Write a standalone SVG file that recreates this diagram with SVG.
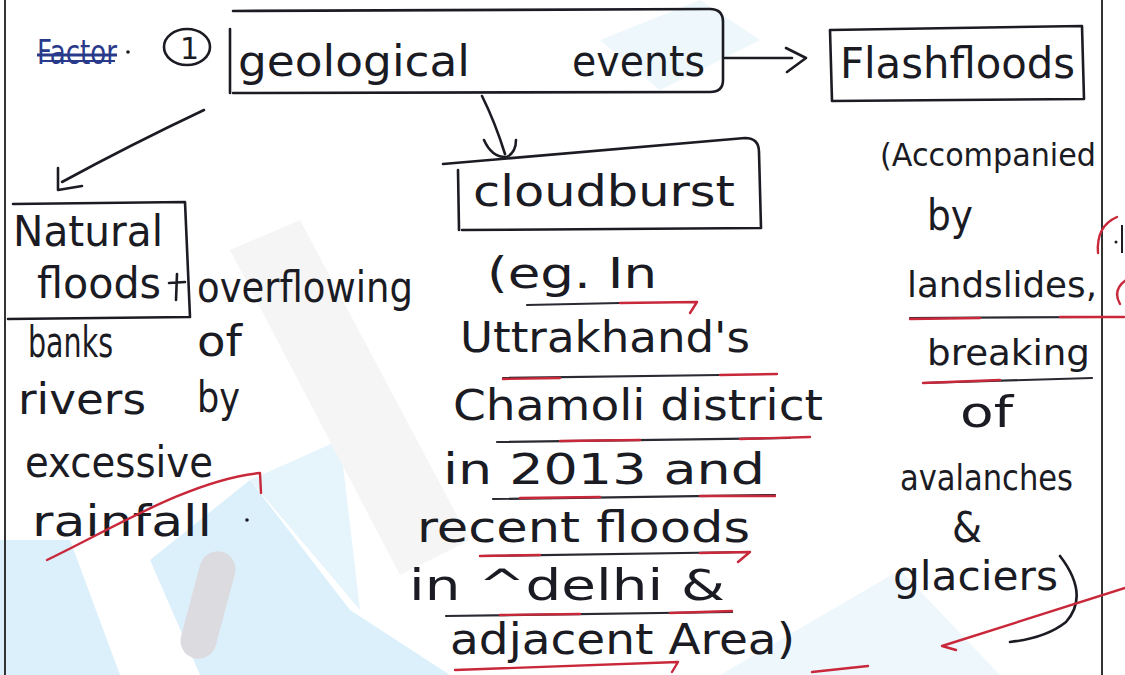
<svg xmlns="http://www.w3.org/2000/svg" width="1125" height="675" viewBox="0 0 1125 675">
  <style>
    .ink { font-family: "DejaVu Sans", "Liberation Sans", sans-serif; font-size: 42px; fill: #1b1b24; }
    .sm { font-size: 36px; }
    .blue { fill: #2a3a8a; }
    .box { fill: none; stroke: #1b1b24; stroke-width: 2.6; stroke-linecap: round; stroke-linejoin: round; }
    .line { fill: none; stroke: #1b1b24; stroke-width: 2.6; stroke-linecap: round; stroke-linejoin: round; }
    .red { fill: none; stroke: #c8283a; stroke-width: 2.4; stroke-linecap: round; stroke-linejoin: round; }
    .dark { fill: none; stroke: #2a2a33; stroke-width: 2.2; stroke-linecap: round; }
    .rule { stroke: #333; stroke-width: 2; }
  </style>

  <!-- paper -->
  <rect width="1125" height="675" fill="#ffffff"/>

  <!-- faint background print -->
  <g id="background-print">
    <polygon points="0,540 70,540 120,675 0,675" fill="#dcf0fb"/>
    <polygon points="150,560 250,480 350,610 450,675 200,675" fill="#dcf0fb"/>
    <polygon points="250,480 340,440 360,610" fill="#e6f4fc"/>
    <rect x="190" y="550" width="36" height="110" rx="18" fill="#dcdce0" transform="rotate(15 208 605)"/>
    <polygon points="720,675 900,570 1000,675" fill="#eef7fc"/>
    <polygon points="230,250 300,220 470,540 400,575" fill="#f5f5f6"/>
    <polygon points="600,40 700,0 760,40 660,90" fill="#eef7fc"/>
  </g>

  <!-- page margins -->
  <line class="rule" x1="5" y1="0" x2="5" y2="675"/>
  <line class="rule" x1="1102" y1="0" x2="1102" y2="675"/>

  <!-- heading -->
  <g id="heading">
    <text class="ink blue" x="37" y="64" style="font-size:34px" textLength="80" lengthAdjust="spacingAndGlyphs">Factor</text>
    <line x1="37" y1="55" x2="117" y2="55" stroke="#2a3a8a" stroke-width="3"/>
    <line x1="40" y1="61" x2="115" y2="61" stroke="#2a3a8a" stroke-width="2"/>
    <circle cx="128" cy="52" r="1.8" fill="#1b1b24"/>
    <ellipse class="line" cx="187" cy="47" rx="23" ry="18"/>
    <text class="ink" x="180" y="59" style="font-size:30px">1</text>
  </g>

  <!-- nodes -->
  <g id="geological-events">
    <path class="box" d="M233,11 L710,9 Q723,9 723,22 L723,80 Q723,92 710,92 L233,93 M230,29 L230,93"/>
    <text class="ink" x="238" y="76" textLength="232" lengthAdjust="spacingAndGlyphs">geological</text>
    <text class="ink" x="572" y="76" textLength="133" lengthAdjust="spacingAndGlyphs">events</text>
  </g>

  <g id="flash-floods">
    <path class="box" d="M830,30 L1082,26 L1084,99 L832,101 Z"/>
    <text class="ink" x="840" y="78" textLength="235" lengthAdjust="spacingAndGlyphs">Flashfloods</text>
  </g>

  <g id="cloudburst">
    <path class="box" d="M443,164 L745,138 Q759,138 759,152 L761,228 L462,230 M458,170 L459,230"/>
    <text class="ink" x="473" y="206" textLength="262" lengthAdjust="spacingAndGlyphs">cloudburst</text>
  </g>

  <g id="natural-floods">
    <path class="box" d="M13,204 L185,202 L190,317 L8,319"/>
    <text class="ink" x="13" y="246" textLength="150" lengthAdjust="spacingAndGlyphs">Natural</text>
    <text class="ink" x="37" y="298" textLength="124" lengthAdjust="spacingAndGlyphs">floods</text>
  </g>

  <!-- connectors -->
  <g id="connectors">
    <path class="line" d="M725,58 L792,58 M786,48 L806,58 L787,72"/>
    <path class="line" d="M482,96 Q495,122 505,154 M484,140 Q492,158 507,157 Q516,152 516,140"/>
    <path class="line" d="M204,110 Q130,145 62,182 M58,168 L58,190 L82,186"/>
  </g>

  <!-- notes under Natural floods -->
  <g id="natural-notes">
    <path class="line" d="M169,283 L185,282 M177,274 L176,300"/>
    <text class="ink" x="197" y="302" textLength="216" lengthAdjust="spacingAndGlyphs">overflowing</text>
    <text class="ink" x="28" y="357" textLength="85" lengthAdjust="spacingAndGlyphs">banks</text>
    <text class="ink" x="197" y="356" textLength="45" lengthAdjust="spacingAndGlyphs">of</text>
    <text class="ink" x="18" y="414" textLength="128" lengthAdjust="spacingAndGlyphs">rivers</text>
    <text class="ink" x="197" y="412" textLength="43" lengthAdjust="spacingAndGlyphs">by</text>
    <text class="ink" x="25" y="477" textLength="188" lengthAdjust="spacingAndGlyphs">excessive</text>
    <text class="ink" x="32" y="536" textLength="180" lengthAdjust="spacingAndGlyphs">rainfall</text>
    <circle cx="247" cy="520" r="1.8" fill="#1b1b24"/>
    <path class="red" d="M47,560 C110,530 190,480 260,473 L261,493"/>
  </g>

  <!-- notes under cloudburst -->
  <g id="cloudburst-notes">
    <text class="ink" x="487" y="288" textLength="170" lengthAdjust="spacingAndGlyphs">(eg. In</text>
    <path class="dark" d="M527,305 L620,303"/>
    <path class="red" d="M620,303 L697,302 L690,313"/>
    <text class="ink" x="460" y="352" textLength="290" lengthAdjust="spacingAndGlyphs">Uttrakhand's</text>
    <path class="dark" d="M503,378 L720,375"/>
    <path class="red" d="M503,379 L560,378 M720,375 L777,374"/>
    <text class="ink" x="453" y="420" textLength="370" lengthAdjust="spacingAndGlyphs">Chamoli district</text>
    <path class="dark" d="M497,442 L790,438"/>
    <path class="red" d="M560,441 L640,440 M740,439 L810,437"/>
    <text class="ink" x="443" y="484" textLength="322" lengthAdjust="spacingAndGlyphs">in 2013 and</text>
    <path class="dark" d="M493,499 L775,495"/>
    <path class="red" d="M520,498 L600,497 M700,496 L775,496"/>
    <text class="ink" x="417" y="542" textLength="333" lengthAdjust="spacingAndGlyphs">recent floods</text>
    <path class="dark" d="M480,556 L750,552"/>
    <path class="red" d="M480,556 L540,555 M700,553 L750,552 L738,562"/>
    <text class="ink" x="409" y="600" textLength="316" lengthAdjust="spacingAndGlyphs">in ^delhi &amp;</text>
    <path class="dark" d="M446,616 L732,612"/>
    <path class="red" d="M500,615 L580,614 M670,613 L732,611"/>
    <text class="ink" x="450" y="654" textLength="345" lengthAdjust="spacingAndGlyphs">adjacent Area)</text>
    <path class="red" d="M455,670 L678,662 L672,672"/>
    <path class="red" d="M812,672 L868,666"/>
  </g>

  <!-- notes under Flash floods -->
  <g id="flash-notes">
    <text class="ink" x="880" y="166" style="font-size:32px" textLength="216" lengthAdjust="spacingAndGlyphs">(Accompanied</text>
    <text class="ink" x="927" y="230" textLength="46" lengthAdjust="spacingAndGlyphs">by</text>
    <text class="ink sm" x="907" y="297" textLength="190" lengthAdjust="spacingAndGlyphs">landslides,</text>
    <path class="dark" d="M910,318 L1102,317"/>
    <path class="red" d="M910,319 L980,318 M1060,317 L1124,317"/>
    <text class="ink sm" x="927" y="365" textLength="163" lengthAdjust="spacingAndGlyphs">breaking</text>
    <path class="dark" d="M923,383 L1092,378"/>
    <path class="red" d="M923,383 L1000,380"/>
    <text class="ink" x="960" y="427" textLength="53" lengthAdjust="spacingAndGlyphs">of</text>
    <text class="ink sm" x="900" y="490" textLength="173" lengthAdjust="spacingAndGlyphs">avalanches</text>
    <text class="ink" x="952" y="542" textLength="30" lengthAdjust="spacingAndGlyphs">&amp;</text>
    <text class="ink" x="893" y="590" style="font-size:40px" textLength="165" lengthAdjust="spacingAndGlyphs">glaciers</text>
    <path class="line" d="M1060,556 Q1090,595 1066,622 Q1046,638 1010,642"/>
    <path class="red" d="M1125,588 L942,646 L956,650"/>
  </g>

  <!-- red marks past the right margin -->
  <g id="margin-marks">
    <path class="red" d="M1117,217 Q1096,226 1098,253"/>
    <circle cx="1116" cy="242" r="1.5" fill="#1b1b24"/>
    <line x1="1122" y1="225" x2="1122" y2="253" stroke="#1b1b24" stroke-width="2"/>
    <path class="red" d="M1126,280 Q1112,290 1120,304"/>
  </g>
</svg>
